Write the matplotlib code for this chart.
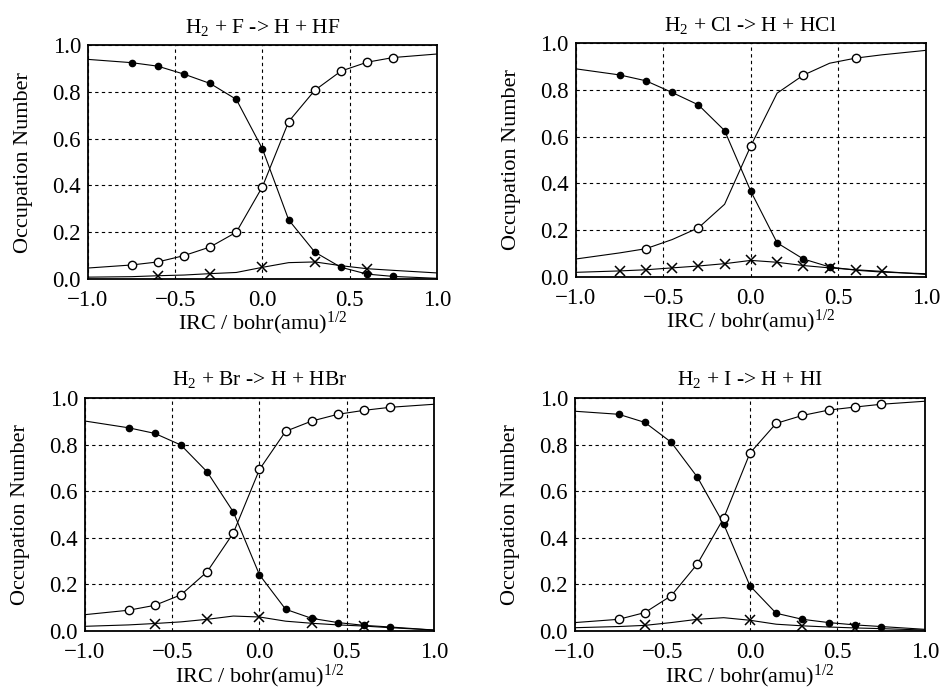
import matplotlib.pyplot as plt
import numpy as np

plt.rcParams['font.family'] = 'Liberation Serif'
plt.rcParams['mathtext.fontset'] = 'custom'
plt.rcParams['mathtext.rm'] = 'Liberation Serif'
plt.rcParams['mathtext.it'] = 'Liberation Serif:italic'

# IRC coordinate of each computed point (line goes through all of them)
irc = [-1.0, -0.75, -0.6, -0.45, -0.3, -0.15, 0.0, 0.15, 0.3, 0.45, 0.6, 0.75, 1.0]

titles = ['H$_2$ + F -> H + HF', 'H$_2$ + Cl -> H + HCl',
          'H$_2$ + Br -> H + HBr', 'H$_2$ + I -> H + HI']

# filled dots
filled_F = [0.939, 0.925, 0.910, 0.876, 0.836, 0.768, 0.556, 0.253, 0.115, 0.050, 0.021, 0.011, 0.003]
filled_Cl = [0.890, 0.864, 0.839, 0.789, 0.736, 0.626, 0.366, 0.146, 0.077, 0.043, 0.029, 0.021, 0.014]
filled_Br = [0.901, 0.872, 0.848, 0.798, 0.683, 0.511, 0.241, 0.093, 0.054, 0.036, 0.024, 0.017, 0.004]
filled_I = [0.943, 0.930, 0.895, 0.810, 0.660, 0.459, 0.194, 0.076, 0.050, 0.036, 0.026, 0.019, 0.007]

# open circles
open_F = [0.047, 0.060, 0.073, 0.100, 0.137, 0.200, 0.395, 0.673, 0.807, 0.889, 0.927, 0.947, 0.962]
open_Cl = [0.077, 0.103, 0.121, 0.160, 0.210, 0.311, 0.561, 0.786, 0.863, 0.914, 0.936, 0.950, 0.969]
open_Br = [0.070, 0.089, 0.110, 0.155, 0.254, 0.420, 0.693, 0.857, 0.901, 0.930, 0.947, 0.960, 0.973]
open_I = [0.036, 0.050, 0.079, 0.151, 0.288, 0.484, 0.763, 0.891, 0.925, 0.948, 0.961, 0.973, 0.986]

# crosses
cross_F = [0.008, 0.010, 0.014, 0.017, 0.023, 0.028, 0.050, 0.070, 0.073, 0.057, 0.044, 0.037, 0.026]
cross_Cl = [0.020, 0.026, 0.031, 0.039, 0.047, 0.057, 0.071, 0.063, 0.049, 0.039, 0.031, 0.024, 0.011]
cross_Br = [0.020, 0.026, 0.032, 0.039, 0.050, 0.064, 0.060, 0.042, 0.033, 0.026, 0.021, 0.014, 0.004]
cross_I = [0.014, 0.019, 0.024, 0.036, 0.050, 0.057, 0.046, 0.029, 0.022, 0.017, 0.013, 0.010, 0.004]

all_pts = [-0.75, -0.6, -0.45, -0.3, -0.15, 0.0, 0.15, 0.3, 0.45, 0.6, 0.75]
every_other = [-0.6, -0.3, 0.0, 0.3, 0.6]

panels = [
    (filled_F, all_pts, open_F, all_pts, cross_F, every_other),
    (filled_Cl, all_pts[:9], open_Cl, every_other, cross_Cl, all_pts),
    (filled_Br, all_pts, open_Br, all_pts, cross_Br, every_other),
    (filled_I, all_pts, open_I, all_pts, cross_I, every_other),
]

positions = [[0.0932, 0.5968, 0.3697, 0.338],
             [0.610, 0.5997, 0.3708, 0.338],
             [0.090, 0.0882, 0.3697, 0.3367],
             [0.609, 0.0882, 0.3708, 0.3367]]
xlabel_pads = [-1, -1, 0, 0]


def idx(xs):
    return [irc.index(v) for v in xs]


fig = plt.figure(figsize=(9.44, 6.92), dpi=100)

for pos, title, (fy, fx, oy, ox, cy, cx), lp in zip(positions, titles, panels, xlabel_pads):
    ax = fig.add_axes(pos)
    ax.plot(irc, fy, color='black', lw=0.8, marker='o', ms=4.5,
            mfc='black', mec='black', markevery=idx(fx))
    ax.plot(irc, oy, color='black', lw=0.8, marker='o', ms=6,
            mfc='white', mec='black', mew=1.0, markevery=idx(ox))
    ax.plot(irc, cy, color='black', lw=0.8, marker='x', ms=7,
            mec='black', mew=1.1, markevery=idx(cx))

    ax.set_xlim(-1, 1)
    ax.set_ylim(0, 1)
    ax.set_xticks([-1.0, -0.5, 0.0, 0.5, 1.0])
    ax.set_yticks([0.0, 0.2, 0.4, 0.6, 0.8, 1.0])
    ax.xaxis.set_major_formatter(plt.FuncFormatter(lambda v, p: f'{v:.1f}'.replace('-', '\u2212')))
    ax.yaxis.set_major_formatter(plt.FuncFormatter(lambda v, p: f'{v:.1f}'))
    ax.tick_params(labelsize=16.5, length=0)
    ax.tick_params(axis='x', pad=8)
    ax.tick_params(axis='y', pad=5)
    ax.grid(True, color='black', linestyle=(0, (3, 3)), linewidth=0.8)
    for s in ax.spines.values():
        s.set_linewidth(1.3)

    ax.set_title(title, fontsize=15.5, pad=9)
    ax.set_xlabel('IRC / bohr(amu)$^{1/2}$', fontsize=16, labelpad=lp)
    ax.set_ylabel('Occupation Number', fontsize=16, labelpad=14)

plt.savefig('out.png', dpi=100)
